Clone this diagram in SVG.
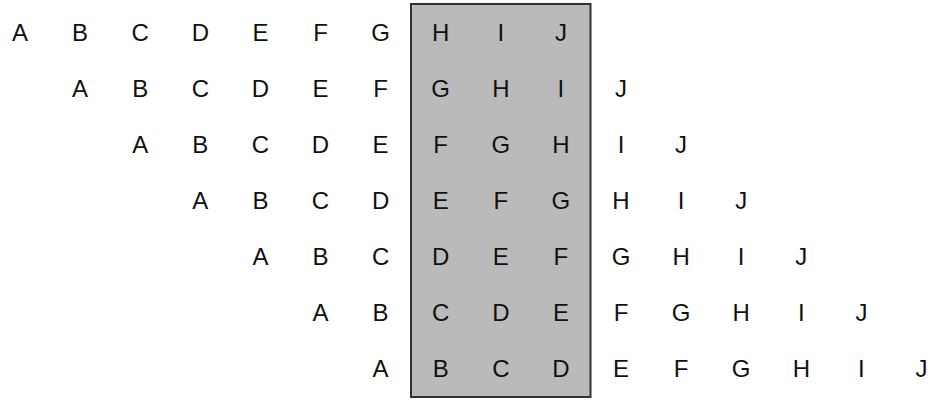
<svg xmlns="http://www.w3.org/2000/svg" width="932" height="400" viewBox="0 0 932 400">
<style>
text{font-family:"Liberation Sans",Arial,sans-serif;font-size:24px;fill:#111;text-anchor:middle}
</style>
<rect width="932" height="400" fill="#fff"/>
<g id="window"><rect x="411" y="4" width="179.5" height="393" fill="#bababa" stroke="#333" stroke-width="2"/></g>
<g id="row0"><text x="20" y="41">A</text><text x="80.1" y="41">B</text><text x="140.2" y="41">C</text><text x="200.3" y="41">D</text><text x="260.4" y="41">E</text><text x="320.5" y="41">F</text><text x="380.6" y="41">G</text><text x="440.7" y="41">H</text><text x="500.8" y="41">I</text><text x="560.9" y="41">J</text></g>
<g id="row1"><text x="80.1" y="97">A</text><text x="140.2" y="97">B</text><text x="200.3" y="97">C</text><text x="260.4" y="97">D</text><text x="320.5" y="97">E</text><text x="380.6" y="97">F</text><text x="440.7" y="97">G</text><text x="500.8" y="97">H</text><text x="560.9" y="97">I</text><text x="621" y="97">J</text></g>
<g id="row2"><text x="140.2" y="153">A</text><text x="200.3" y="153">B</text><text x="260.4" y="153">C</text><text x="320.5" y="153">D</text><text x="380.6" y="153">E</text><text x="440.7" y="153">F</text><text x="500.8" y="153">G</text><text x="560.9" y="153">H</text><text x="621" y="153">I</text><text x="681.1" y="153">J</text></g>
<g id="row3"><text x="200.3" y="209">A</text><text x="260.4" y="209">B</text><text x="320.5" y="209">C</text><text x="380.6" y="209">D</text><text x="440.7" y="209">E</text><text x="500.8" y="209">F</text><text x="560.9" y="209">G</text><text x="621" y="209">H</text><text x="681.1" y="209">I</text><text x="741.2" y="209">J</text></g>
<g id="row4"><text x="260.4" y="265">A</text><text x="320.5" y="265">B</text><text x="380.6" y="265">C</text><text x="440.7" y="265">D</text><text x="500.8" y="265">E</text><text x="560.9" y="265">F</text><text x="621" y="265">G</text><text x="681.1" y="265">H</text><text x="741.2" y="265">I</text><text x="801.3" y="265">J</text></g>
<g id="row5"><text x="320.5" y="321">A</text><text x="380.6" y="321">B</text><text x="440.7" y="321">C</text><text x="500.8" y="321">D</text><text x="560.9" y="321">E</text><text x="621" y="321">F</text><text x="681.1" y="321">G</text><text x="741.2" y="321">H</text><text x="801.3" y="321">I</text><text x="861.4" y="321">J</text></g>
<g id="row6"><text x="380.6" y="377">A</text><text x="440.7" y="377">B</text><text x="500.8" y="377">C</text><text x="560.9" y="377">D</text><text x="621" y="377">E</text><text x="681.1" y="377">F</text><text x="741.2" y="377">G</text><text x="801.3" y="377">H</text><text x="861.4" y="377">I</text><text x="921.5" y="377">J</text></g>
</svg>
